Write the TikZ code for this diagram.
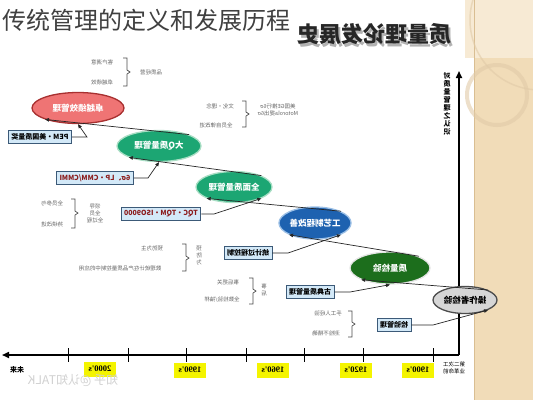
\documentclass[tikz,border=0pt]{standalone}
\usepackage{fontspec}
\setmainfont{Noto Sans CJK SC}
\newfontfamily\lat{Liberation Serif}
\usetikzlibrary{arrows.meta,shapes.geometric}
\definecolor{band}{HTML}{F1DCB8}
\definecolor{bandline}{HTML}{D9BE92}
\definecolor{boxfill}{HTML}{D3E9F8}
\definecolor{boxline}{HTML}{3C5A78}
\definecolor{pinkfill}{HTML}{EF7474}
\definecolor{pinkline}{HTML}{A83030}
\definecolor{tealfill}{HTML}{1CA673}
\definecolor{tealline}{HTML}{A8DEC4}
\definecolor{bluefill}{HTML}{1E62B0}
\definecolor{blueline}{HTML}{9CC0E6}
\definecolor{dgreenfill}{HTML}{1C6E1C}
\definecolor{greyfill}{HTML}{D6D6D6}
\definecolor{yel}{HTML}{F4F400}
\definecolor{side}{HTML}{666666}
\definecolor{redtext}{HTML}{8B1A1A}
\begin{document}
\begin{tikzpicture}[x=1pt,y=-1pt,
  mir/.style={xscale=-1},
  el/.style={mir,ellipse,inner sep=0pt,font=\fontsize{8.5}{9}\selectfont\bfseries,text=white,line width=1.3pt},
  qbox/.style={mir,rectangle,fill=boxfill,draw=boxline,line width=0.8pt,inner xsep=3pt,inner ysep=1.5pt,minimum height=13.5pt,font=\fontsize{7}{8}\selectfont\bfseries},
  sidetxt/.style={mir,font=\fontsize{5.5}{7}\selectfont,text=side,inner sep=0pt,align=center},
  yearbox/.style={mir,fill=yel,inner xsep=5pt,inner ysep=0pt,minimum height=15pt,font=\lat\fontsize{8.5}{9}\selectfont\bfseries},
  conn/.style={draw=black!85,line width=0.7pt,-{Triangle[length=4pt,width=3.5pt]}},
  brk/.style={draw=black!70,line width=0.7pt}
]
\useasboundingbox (0,0) rectangle (533,400);
\fill[white] (0,0) rectangle (533,400);
% right band
\fill[band] (474,0) rectangle (533,400);
\fill[band!60!white] (465,0) rectangle (533,58);
\draw[bandline,line width=0.8pt] (474,0) -- (474,400);
\begin{scope}
\clip (465,0) rectangle (533,140);
\draw[bandline!80,line width=4pt,opacity=0.6] (497,95) circle[radius=30];
\draw[bandline!80,line width=1.5pt,opacity=0.6] (540,20) circle[radius=70];
\end{scope}
% title
\node[anchor=west,inner sep=0pt,font=\fontsize{24}{26}\selectfont,text=black!75] (title) at (2,20) {传统管理的定义和发展历程};
\node[mir,inner sep=0pt,font=\fontsize{22}{24}\selectfont\bfseries,text=black!30] (subshadow) at (376,37) {质量理论发展史};
\node[mir,inner sep=0pt,font=\fontsize{22}{24}\selectfont\bfseries,text=black!85] (sub) at (374,34) {质量理论发展史};
% axes
\coordinate (corner) at (459,355);
\coordinate (leftend) at (2,355);
\coordinate (topend) at (459,71);
\draw[line width=1.6pt,-{Triangle[length=7pt,width=6pt]}] (corner) -- (leftend);
\draw[line width=1.6pt,-{Triangle[length=7pt,width=6pt]}] (corner) -- (topend);
\foreach \t in {68,128,186,246,304,363,433} \draw[line width=1pt] (\t,348) -- (\t,362);
\node[mir,font=\fontsize{7}{8}\selectfont\bfseries,inner sep=0pt,align=center] (vlab) at (447,104) {对\\质\\量\\管\\理\\之\\认\\识};
% years
\node[yearbox] (y1) at (418,370) {1900's};
\node[yearbox] (y2) at (356,370) {1920's};
\node[yearbox] (y3) at (273,370) {1960's};
\node[yearbox] (y4) at (190,370) {1990's};
\node[yearbox] (y5) at (100,369) {2000's};
\node[mir,font=\fontsize{7}{8}\selectfont\bfseries,inner sep=0pt] (fut) at (17,370) {未来};
\node[mir,font=\fontsize{5.5}{6.5}\selectfont,inner sep=0pt,align=left] (pre) at (454,368) {第二次工\\业革命前};
\node[mir,font=\fontsize{12}{13}\selectfont,text=black!18,inner sep=0pt] (wm) at (73,380) {知乎 @认知TALK};
% ellipses
\node[el,minimum width=64pt,minimum height=27pt,fill=greyfill,draw=black!70,text=black] (e1) at (465,300) {操作者检验};
\node[el,minimum width=80pt,minimum height=32pt,fill=dgreenfill,draw=black!10] (e2) at (390,268) {质量检验};
\node[el,minimum width=72pt,minimum height=32pt,fill=bluefill,draw=blueline] (e3) at (315,223) {工艺制程改善};
\node[el,minimum width=76pt,minimum height=31pt,fill=tealfill,draw=tealline] (e4) at (234,187) {全面质量管理};
\node[el,minimum width=84pt,minimum height=31pt,fill=tealfill,draw=tealline] (e5) at (159,146) {大Q质量管理};
\node[el,minimum width=92pt,minimum height=31pt,fill=pinkfill,draw=pinkline] (e6) at (78,108) {卓越绩效管理};
% chain arrows
\draw[conn] (e1.north west) -- (e2.south east);
\draw[conn] (e2.north west) -- (e3.south east);
\draw[conn] (e3.north west) -- (e4.south east);
\draw[conn] (e4.north west) -- (e5.south east);
\draw[conn] (e5.north west) -- (e6.south east);
% boxes
\node[qbox] (b1) at (394,325) {检验管理};
\node[qbox] (b2) at (310,292) {古典质量管理};
\node[qbox] (b3) at (248,253) {统计过程控制};
\node[qbox,text=redtext] (b4) at (161,214) {TQC・TQM・ISO9000};
\node[qbox,text=redtext] (b5) at (95,178) {6σ、LP・CMM/CMMI};
\node[qbox] (b6) at (40,137) {PEM・美国质量奖};
\coordinate (k1) at (433,325);
\coordinate (k2) at (350,292);
\coordinate (k3) at (288,253);
\coordinate (k4) at (214,214);
\coordinate (k5) at (148,178);
\coordinate (k6) at (87,137);
\draw[conn] (b1.west) -- (k1) -- (e1.south west);
\draw[conn] (b2.west) -- (k2) -- (e2.south);
\draw[conn] (b3.west) -- (k3) -- (e3.south west);
\draw[conn] (b4.west) -- (k4) -- (e4.south west);
\draw[conn] (b5.west) -- (k5) -- (e5.south);
\draw[conn] (b6.west) -- (k6) -- (e6.south);
% side notes
\node[sidetxt] (s1a) at (102,62) {客户满意};
\node[sidetxt] (s1b) at (102,82) {卓越绩效};
\node[sidetxt] (s1c) at (151,72) {品质经营};
\draw[brk] (123,58) -- (127,58) -- (127,70) -- (130,72) -- (127,74) -- (127,86) -- (123,86);
\node[sidetxt] (s2a) at (220,106) {文化・理念};
\node[sidetxt] (s2b) at (216,125) {全员自律改进};
\node[sidetxt] (s2c) at (278,110) {美国GE推行6σ\\Motorola提出6σ};
\draw[brk] (242,101) -- (246,101) -- (246,112) -- (249,114) -- (246,116) -- (246,127) -- (242,127);
\node[sidetxt] (s3a) at (52,203) {全员参与};
\node[sidetxt] (s3b) at (52,224) {持续改进};
\node[sidetxt] (s3c) at (95,213) {领导\\全员\\全过程};
\draw[brk] (71,199) -- (75,199) -- (75,211) -- (78,213) -- (75,215) -- (75,228) -- (71,228);
\node[sidetxt] (s4a) at (152,248) {预防为主};
\node[sidetxt] (s4b) at (120,268) {数理统计在产品质量控制中的应用};
\node[sidetxt] (s4c) at (199,256) {预\\防\\为};
\draw[brk] (182,244) -- (186,244) -- (186,256) -- (189,258) -- (186,260) -- (186,271) -- (182,271);
\node[sidetxt] (s5a) at (228,282) {事后把关};
\node[sidetxt] (s5b) at (222,300) {全数检验/抽样};
\node[sidetxt] (s5c) at (264,290) {事\\后};
\draw[brk] (249,278) -- (253,278) -- (253,289) -- (256,291) -- (253,293) -- (253,304) -- (249,304);
\node[sidetxt] (s6a) at (328,313) {手工人经验};
\node[sidetxt] (s6b) at (326,333) {测检不精确};
\draw[brk] (348,311) -- (352,311) -- (352,322) -- (355,324) -- (352,326) -- (352,337) -- (348,337);
\end{tikzpicture}
\end{document}
